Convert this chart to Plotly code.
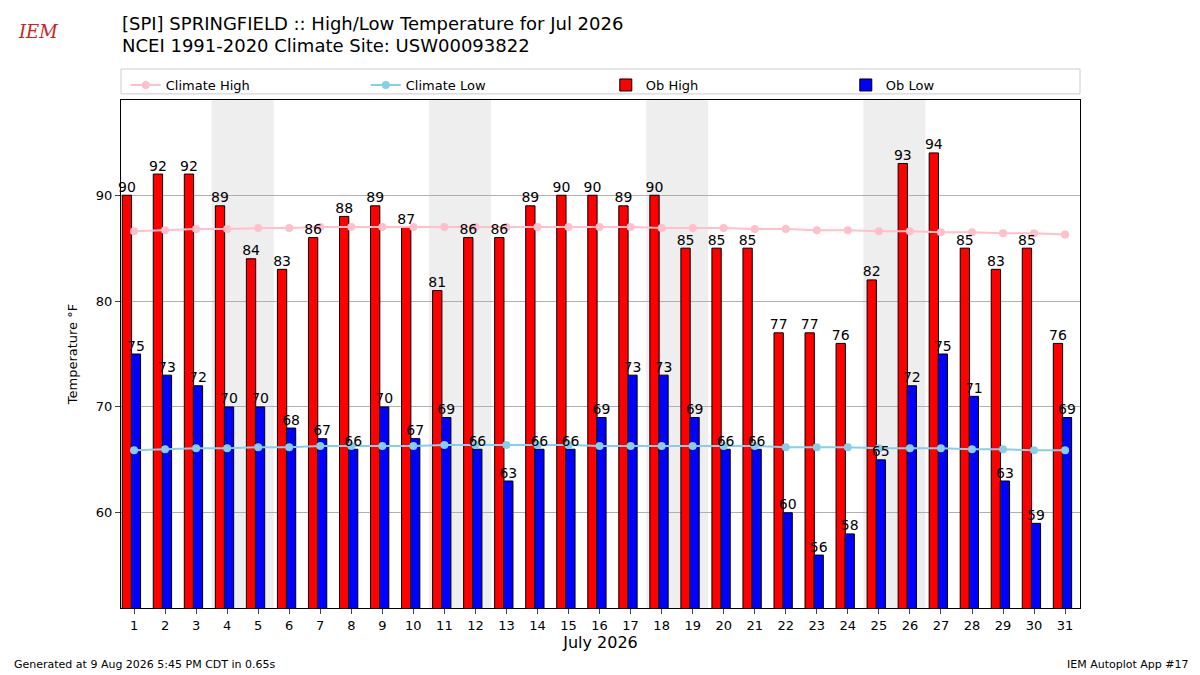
import plotly.graph_objects as go

days = list(range(1, 32))
ob_high = [90, 92, 92, 89, 84, 83, 86, 88, 89, 87, 81, 86, 86, 89, 90, 90, 89, 90, 85, 85, 85, 77, 77, 76, 82, 93, 94, 85, 83, 85, 76]
ob_low = [75, 73, 72, 70, 70, 68, 67, 66, 70, 67, 69, 66, 63, 66, 66, 69, 73, 73, 69, 66, 66, 60, 56, 58, 65, 72, 75, 71, 63, 59, 69]
clim_high = [86.6, 86.7, 86.8, 86.8, 86.9, 86.9, 87.0, 87.0, 87.0, 87.0, 87.0, 87.0, 87.0, 87.0, 87.0, 87.0, 87.0,
             86.9, 86.9, 86.9, 86.8, 86.8, 86.7, 86.7, 86.6, 86.6, 86.5, 86.5, 86.4, 86.4, 86.3]
clim_low = [65.9, 66.0, 66.1, 66.1, 66.2, 66.2, 66.3, 66.3, 66.3, 66.3, 66.4, 66.4, 66.4, 66.4, 66.4, 66.3, 66.3,
            66.3, 66.3, 66.3, 66.3, 66.2, 66.2, 66.2, 66.1, 66.1, 66.1, 66.0, 66.0, 65.9, 65.9]
weekends = [(3.5, 5.5), (10.5, 12.5), (17.5, 19.5), (24.5, 26.5)]

fig = go.Figure()
fig.add_trace(go.Scatter(x=days, y=clim_high, mode="lines+markers", name="Climate High",
                         line=dict(color="pink", width=2), marker=dict(size=8, color="pink")))
fig.add_trace(go.Scatter(x=days, y=clim_low, mode="lines+markers", name="Climate Low",
                         line=dict(color="skyblue", width=2), marker=dict(size=8, color="skyblue")))
fig.add_trace(go.Bar(x=days, y=ob_high, name="Ob High", marker=dict(color="red", line=dict(color="black", width=1)),
                     width=0.3, offset=-0.38))
fig.add_trace(go.Bar(x=days, y=ob_low, name="Ob Low", marker=dict(color="blue", line=dict(color="black", width=1)),
                     width=0.3, offset=-0.09))
# value labels
fig.add_trace(go.Scatter(x=[d - 0.23 for d in days], y=ob_high, mode="text", text=ob_high,
                         textposition="top center", textfont=dict(size=14, color="black"),
                         showlegend=False, hoverinfo="skip", cliponaxis=False))
fig.add_trace(go.Scatter(x=[d + 0.06 for d in days], y=ob_low, mode="text", text=ob_low,
                         textposition="top center", textfont=dict(size=14, color="black"),
                         showlegend=False, hoverinfo="skip", cliponaxis=False))

for x0, x1 in weekends:
    fig.add_vrect(x0=x0, x1=x1, fillcolor="#eeeeee", line_width=0, layer="below")

# legend frame across the plot width
fig.add_shape(type="rect", xref="paper", yref="paper", x0=0, x1=1, y0=1.012, y1=1.061,
              line=dict(color="#cccccc", width=1), fillcolor="white")

fig.update_layout(
    width=1200, height=675, plot_bgcolor="white", paper_bgcolor="white",
    font=dict(family="DejaVu Sans", size=13, color="black"),
    margin=dict(l=121, r=120, t=100, b=67, autoexpand=False),
    barmode="overlay",
    legend=dict(orientation="h", x=0.005, y=1.059, xanchor="left", yanchor="top",
                entrywidth=195, bgcolor="rgba(0,0,0,0)", font=dict(size=13),
                traceorder="normal"),
    xaxis=dict(range=[0.58, 31.48], tickmode="array", tickvals=days, ticks="outside",
               showline=True, linecolor="black", mirror=True, showgrid=False,
               title=dict(text="July 2026", font=dict(size=16), standoff=5), tickfont=dict(size=13)),
    yaxis=dict(range=[51, 99], tickvals=[60, 70, 80, 90], ticks="outside", showline=True,
               linecolor="black", mirror=True, gridcolor="#b0b0b0",
               title=dict(text="Temperature °F", font=dict(size=13)), tickfont=dict(size=13)),
)
for txt, yy in [("[SPI] SPRINGFIELD :: High/Low Temperature for Jul 2026", 1.175),
                ("NCEI 1991-2020 Climate Site: USW00093822", 1.132)]:
    fig.add_annotation(text=txt, xref="paper", yref="paper", x=-0.001, y=yy, xanchor="left",
                       yanchor="top", showarrow=False, font=dict(size=18))
fig.add_annotation(text="<i>IEM</i>", xref="paper", yref="paper", x=-0.11, y=1.16, showarrow=False,
                   font=dict(family="DejaVu Serif", size=18, color="#cc2222"), xanchor="left")
fig.add_annotation(text="Generated at 9 Aug 2026 5:45 PM CDT in 0.65s", xref="paper", yref="paper",
                   x=-0.114, y=-0.095, xanchor="left", yanchor="top", showarrow=False, font=dict(size=11))
fig.add_annotation(text="IEM Autoplot App #17", xref="paper", yref="paper", x=1.116, y=-0.095,
                   xanchor="right", yanchor="top", showarrow=False, font=dict(size=11))
fig.write_html("out.html", config={"displayModeBar": False},
               post_script="document.body.style.margin='0';")
